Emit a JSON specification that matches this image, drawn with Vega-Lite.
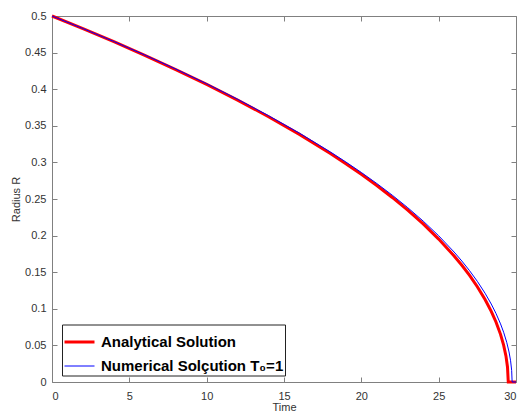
{
  "$schema": "https://vega.github.io/schema/vega-lite/v6.json",
  "width": 464,
  "height": 366,
  "autosize": {"type": "none"},
  "padding": {"left": 52, "top": 16, "right": 7, "bottom": 33},
  "background": "white",
  "config": {
    "view": {"stroke": null},
    "font": "Liberation Sans",
    "axis": {
      "grid": false,
      "domainColor": "#808080",
      "tickColor": "#808080",
      "tickSize": -5,
      "labelColor": "#333333",
      "labelFontSize": 11,
      "titleColor": "#333333",
      "titleFontSize": 11,
      "titleFontWeight": "normal"
    }
  },
  "data": {
    "values": [
      {"t": 0, "R": 0.5, "series": "Analytical Solution"},
      {"t": 2, "R": 0.48275, "series": "Analytical Solution"},
      {"t": 4, "R": 0.46487, "series": "Analytical Solution"},
      {"t": 6, "R": 0.44627, "series": "Analytical Solution"},
      {"t": 8, "R": 0.42685, "series": "Analytical Solution"},
      {"t": 10, "R": 0.40652, "series": "Analytical Solution"},
      {"t": 12, "R": 0.3851, "series": "Analytical Solution"},
      {"t": 14, "R": 0.36243, "series": "Analytical Solution"},
      {"t": 16, "R": 0.33824, "series": "Analytical Solution"},
      {"t": 18, "R": 0.31218, "series": "Analytical Solution"},
      {"t": 19, "R": 0.2983, "series": "Analytical Solution"},
      {"t": 20, "R": 0.28374, "series": "Analytical Solution"},
      {"t": 21, "R": 0.26839, "series": "Analytical Solution"},
      {"t": 22, "R": 0.25211, "series": "Analytical Solution"},
      {"t": 23, "R": 0.2347, "series": "Analytical Solution"},
      {"t": 24, "R": 0.21589, "series": "Analytical Solution"},
      {"t": 25, "R": 0.19528, "series": "Analytical Solution"},
      {"t": 26, "R": 0.17222, "series": "Analytical Solution"},
      {"t": 26.5, "R": 0.15945, "series": "Analytical Solution"},
      {"t": 27, "R": 0.14556, "series": "Analytical Solution"},
      {"t": 27.5, "R": 0.13019, "series": "Analytical Solution"},
      {"t": 28, "R": 0.11275, "series": "Analytical Solution"},
      {"t": 28.4, "R": 0.09655, "series": "Analytical Solution"},
      {"t": 28.7, "R": 0.08234, "series": "Analytical Solution"},
      {"t": 29, "R": 0.06509, "series": "Analytical Solution"},
      {"t": 29.2, "R": 0.05042, "series": "Analytical Solution"},
      {"t": 29.35, "R": 0.03565, "series": "Analytical Solution"},
      {"t": 29.45, "R": 0.02058, "series": "Analytical Solution"},
      {"t": 29.5, "R": 0, "series": "Analytical Solution"},
      {"t": 30, "R": 0, "series": "Analytical Solution"},
      {"t": 0, "R": 0.5, "series": "Numerical Solçution T₀=1"},
      {"t": 2, "R": 0.4829, "series": "Numerical Solçution T₀=1"},
      {"t": 4, "R": 0.46517, "series": "Numerical Solçution T₀=1"},
      {"t": 6, "R": 0.44674, "series": "Numerical Solçution T₀=1"},
      {"t": 8, "R": 0.42752, "series": "Numerical Solçution T₀=1"},
      {"t": 10, "R": 0.40739, "series": "Numerical Solçution T₀=1"},
      {"t": 12, "R": 0.38621, "series": "Numerical Solçution T₀=1"},
      {"t": 14, "R": 0.3638, "series": "Numerical Solçution T₀=1"},
      {"t": 16, "R": 0.33992, "series": "Numerical Solçution T₀=1"},
      {"t": 18, "R": 0.31423, "series": "Numerical Solçution T₀=1"},
      {"t": 19, "R": 0.30056, "series": "Numerical Solçution T₀=1"},
      {"t": 20, "R": 0.28624, "series": "Numerical Solçution T₀=1"},
      {"t": 21, "R": 0.27116, "series": "Numerical Solçution T₀=1"},
      {"t": 22, "R": 0.2552, "series": "Numerical Solçution T₀=1"},
      {"t": 23, "R": 0.23817, "series": "Numerical Solçution T₀=1"},
      {"t": 24, "R": 0.21982, "series": "Numerical Solçution T₀=1"},
      {"t": 25, "R": 0.19979, "series": "Numerical Solçution T₀=1"},
      {"t": 26, "R": 0.17752, "series": "Numerical Solçution T₀=1"},
      {"t": 26.5, "R": 0.16526, "series": "Numerical Solçution T₀=1"},
      {"t": 27, "R": 0.15202, "series": "Numerical Solçution T₀=1"},
      {"t": 27.5, "R": 0.13751, "series": "Numerical Solçution T₀=1"},
      {"t": 28, "R": 0.12127, "series": "Numerical Solçution T₀=1"},
      {"t": 28.4, "R": 0.10651, "series": "Numerical Solçution T₀=1"},
      {"t": 28.7, "R": 0.09393, "series": "Numerical Solçution T₀=1"},
      {"t": 29, "R": 0.07939, "series": "Numerical Solçution T₀=1"},
      {"t": 29.2, "R": 0.06798, "series": "Numerical Solçution T₀=1"},
      {"t": 29.4, "R": 0.05423, "series": "Numerical Solçution T₀=1"},
      {"t": 29.55, "R": 0.041, "series": "Numerical Solçution T₀=1"},
      {"t": 29.65, "R": 0.02899, "series": "Numerical Solçution T₀=1"},
      {"t": 29.72, "R": 0.01588, "series": "Numerical Solçution T₀=1"},
      {"t": 29.75, "R": 0, "series": "Numerical Solçution T₀=1"},
      {"t": 30, "R": 0, "series": "Numerical Solçution T₀=1"}
    ]
  },
  "layer": [
    {
      "mark": {"type": "line", "opacity": 0},
      "encoding": {
        "x": {"field": "t", "type": "quantitative", "scale": {"domain": [0, 30], "nice": false, "zero": false},
              "axis": {"orient": "top", "labels": false, "title": null, "values": [0, 5, 10, 15, 20, 25, 30]}},
        "y": {"field": "R", "type": "quantitative", "scale": {"domain": [0, 0.5], "nice": false},
              "axis": {"orient": "right", "labels": false, "title": null, "values": [0, 0.05, 0.1, 0.15, 0.2, 0.25, 0.3, 0.35, 0.4, 0.45, 0.5]}}
      }
    },
    {
      "mark": {"type": "line", "clip": false},
      "encoding": {
        "x": {"field": "t", "type": "quantitative", "scale": {"domain": [0, 30], "nice": false, "zero": false},
              "axis": {"orient": "bottom", "title": "Time", "values": [0, 5, 10, 15, 20, 25, 30], "format": "d", "labelPadding": 13, "titlePadding": 0}},
        "y": {"field": "R", "type": "quantitative", "scale": {"domain": [0, 0.5], "nice": false},
              "axis": {"orient": "left", "title": "Radius R", "values": [0, 0.05, 0.1, 0.15, 0.2, 0.25, 0.3, 0.35, 0.4, 0.45, 0.5], "format": ".2~f", "labelPadding": 11, "titlePadding": 3}},
        "color": {
          "field": "series", "type": "nominal",
          "scale": {"domain": ["Analytical Solution", "Numerical Solçution T₀=1"], "range": ["#ff0000", "#0000ff"]},
          "legend": {
            "orient": "none", "legendX": 10, "legendY": 308.5, "title": null,
            "strokeColor": "#222222", "fillColor": "white", "padding": 1,
            "symbolType": "stroke", "symbolSize": 900,
            "labelFont": "Liberation Sans", "labelFontWeight": "bold", "labelFontSize": 15,
            "labelColor": "black", "rowPadding": -13, "labelLimit": 400, "labelOffset": 5
          }
        },
        "strokeWidth": {
          "field": "series", "type": "nominal",
          "scale": {"domain": ["Analytical Solution", "Numerical Solçution T₀=1"], "range": [3, 1]}
        }
      }
    }
  ]
}
